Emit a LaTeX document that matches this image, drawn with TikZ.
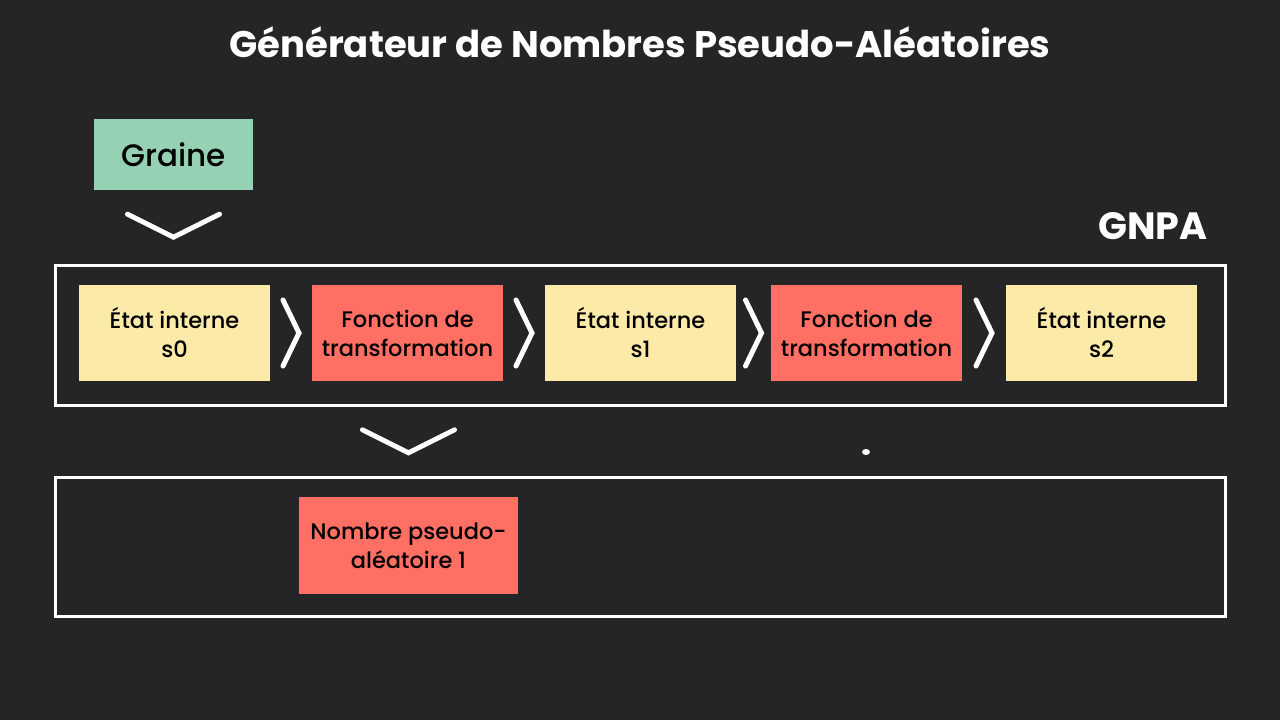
\documentclass[tikz,border=0pt]{standalone}
\usepackage{fontspec}
\setmainfont{Poppins}[UprightFont={* Medium}, BoldFont={* Bold}]
\usetikzlibrary{calc}
\definecolor{fond}{HTML}{252528}
\definecolor{vert}{HTML}{96D1B4}
\definecolor{jaune}{HTML}{FCEAA8}
\definecolor{rouge}{HTML}{FF6F63}
\tikzset{
	etat/.style={fill=jaune, minimum width=191pt, minimum height=96pt, align=center, font=\fontsize{22.5}{29}\selectfont, inner sep=0pt},
	fonction/.style={etat, fill=rouge},
	chev/.style={draw=white, line width=5pt, line cap=round, line join=miter},
	cadre/.style={draw=white, line width=3pt}
}
\begin{document}
\begin{tikzpicture}[x=1pt, y=-1pt]
			\fill[fond] (0,0) rectangle (1280,720);
			\useasboundingbox (0,0) rectangle (1280,720);
			\node[text=white, font=\fontsize{37}{44}\selectfont\bfseries] (titre) at (640,42) {Générateur de Nombres Pseudo-Aléatoires};
			\node[fill=vert, minimum width=159pt, minimum height=71pt, font=\fontsize{31}{36}\selectfont] (graine) at (173.5,154.5) {Graine};
			\node[text=white, font=\fontsize{38}{44}\selectfont\bfseries] (gnpa) at (1153,226) {GNPA};
			\draw[cadre] (55,265) rectangle (1225,405);
			\draw[cadre] (55,477) rectangle (1225,616);
			\node[etat] (s0) at (174.5,333) {État interne\\s0};
			\node[fonction] (f1) at (407.5,333) {Fonction de\\transformation};
			\node[etat] (s1) at (640.5,333) {État interne\\s1};
			\node[fonction] (f2) at (866.5,333) {Fonction de\\transformation};
			\node[etat] (s2) at (1101.5,333) {État interne\\s2};
			\node[fonction, minimum width=219pt, minimum height=97pt] (nombre) at (408.5,545.5) {Nombre pseudo-\\aléatoire 1};
			% chevrons
			\foreach \a/\b in {s0/f1, f1/s1, s1/f2, f2/s2}
				\draw[chev] ($(\a.east)!0.5!(\b.west)+(-8,-33)$) -- ++(16,33) -- ++(-16,33);
			\draw[chev] ($(graine.south)+(-46,24)$) -- ++(46,23) -- ++(46,-23);
			\draw[chev] ($(nombre.north)+(-46,-67)$) -- ++(46,23) -- ++(46,-23);
			\fill[white] (866,452) ellipse (4pt and 3pt);
		\end{tikzpicture}
\end{document}
